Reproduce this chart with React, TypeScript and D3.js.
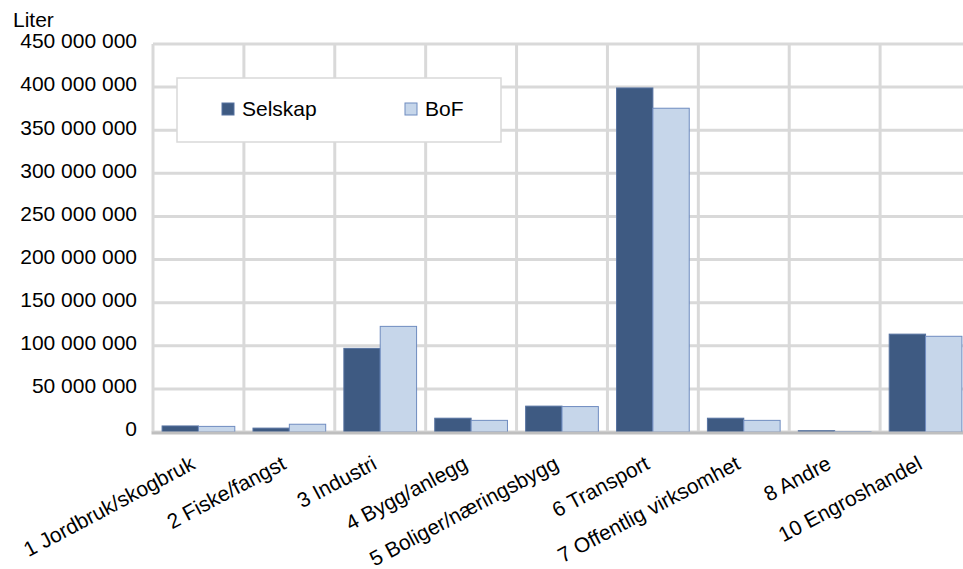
import React from "react";
import * as d3 from "d3";

const categories = [
  "1 Jordbruk/skogbruk",
  "2 Fiske/fangst",
  "3 Industri",
  "4 Bygg/anlegg",
  "5 Boliger/næringsbygg",
  "6 Transport",
  "7 Offentlig virksomhet",
  "8 Andre",
  "10 Engroshandel",
];
const seriesNames = ["Selskap", "BoF"];
const selskap = [7000000, 4500000, 97000000, 16000000, 30000000, 399000000, 16000000, 1500000, 113500000];
const bof = [6500000, 9000000, 122500000, 13500000, 29500000, 375500000, 13500000, 300000, 111000000];
const yTicks = [0, 50000000, 100000000, 150000000, 200000000, 250000000, 300000000, 350000000, 400000000, 450000000];
const yAxisTitle = "Liter";

const W = 963;
const H = 569;
const left = 153;
const right = 971;
const top = 44;
const bottom = 432;
const FONT = "'Liberation Sans', Arial, sans-serif";
const FS = 21;
const colors = { Selskap: { fill: "#3E5A82", stroke: "#5672A0" }, BoF: { fill: "#C6D6EA", stroke: "#6F8CC0" } };

const fmt = (v: number) => {
  if (v === 0) return "0";
  const s = String(v);
  return s.replace(/\B(?=(\d{3})+(?!\d))/g, " ");
};

export default function App() {
  const x0 = d3.scaleBand<string>().domain(categories).range([left, right]).paddingInner(0.2).paddingOuter(0.1);
  const x1 = d3.scaleBand<string>().domain(seriesNames).range([0, x0.bandwidth()]);
  const y = d3.scaleLinear().domain([0, 450000000]).range([bottom, top]);
  const step = x0.step();
  const data = [selskap, bof];

  return (
    <svg width={W} height={H} style={{ position: "absolute", left: 0, top: 0, background: "#fff" }} fontFamily={FONT}>
      <rect x={0} y={0} width={W} height={H} fill="#fff" />
      {/* horizontal gridlines */}
      {yTicks.map((t) => (
        <line key={"h" + t} x1={left} x2={right} y1={y(t)} y2={y(t)} stroke="#D9D9D9" strokeWidth={3} />
      ))}
      {/* vertical gridlines */}
      {d3.range(categories.length + 1).map((i) => (
        <line key={"v" + i} x1={left + i * step} x2={left + i * step} y1={top} y2={bottom} stroke="#D9D9D9" strokeWidth={3} />
      ))}
      {/* bars */}
      {categories.map((c, i) => (
        <g key={c} transform={`translate(${x0(c)},0)`}>
          {seriesNames.map((s, j) => {
            const v = data[j][i];
            const col = (colors as any)[s];
            return (
              <rect
                key={s}
                x={x1(s)!}
                y={y(v)}
                width={x1.bandwidth()}
                height={bottom - y(v)}
                fill={col.fill}
                stroke={col.stroke}
                strokeWidth={1}
              />
            );
          })}
        </g>
      ))}
      {/* x axis line */}
      <line x1={left - 1.5} x2={right} y1={bottom + 1} y2={bottom + 1} stroke="#BFBFBF" strokeWidth={3} />
      {/* y tick labels */}
      {yTicks.map((t) => (
        <text key={"yl" + t} x={137} y={y(t) - 3} dy="0.35em" textAnchor="end" fontSize={FS} fill="#000">
          {fmt(t)}
        </text>
      ))}
      <text x={13} y={27} fontSize={FS} fill="#000">{yAxisTitle}</text>
      {/* x labels */}
      {categories.map((c) => {
        const cx = x0(c)! + x0.bandwidth() / 2;
        return (
          <text
            key={"xl" + c}
            transform={`translate(${cx - 2},${bottom + 36}) rotate(-28)`}
            textAnchor="end"
            fontSize={FS}
            fill="#000"
          >
            {c}
          </text>
        );
      })}
      {/* legend */}
      <rect x={177} y={78} width={324} height={64} fill="#fff" stroke="#D9D9D9" strokeWidth={1.5} />
      {seriesNames.map((s, j) => {
        const col = (colors as any)[s];
        const lx = j === 0 ? 222 : 405;
        return (
          <g key={"lg" + s}>
            <rect x={lx} y={103} width={12} height={12} fill={col.fill} stroke={col.stroke} strokeWidth={1} />
            <text x={lx + 20} y={116} fontSize={FS} fill="#000">{s}</text>
          </g>
        );
      })}
    </svg>
  );
}
